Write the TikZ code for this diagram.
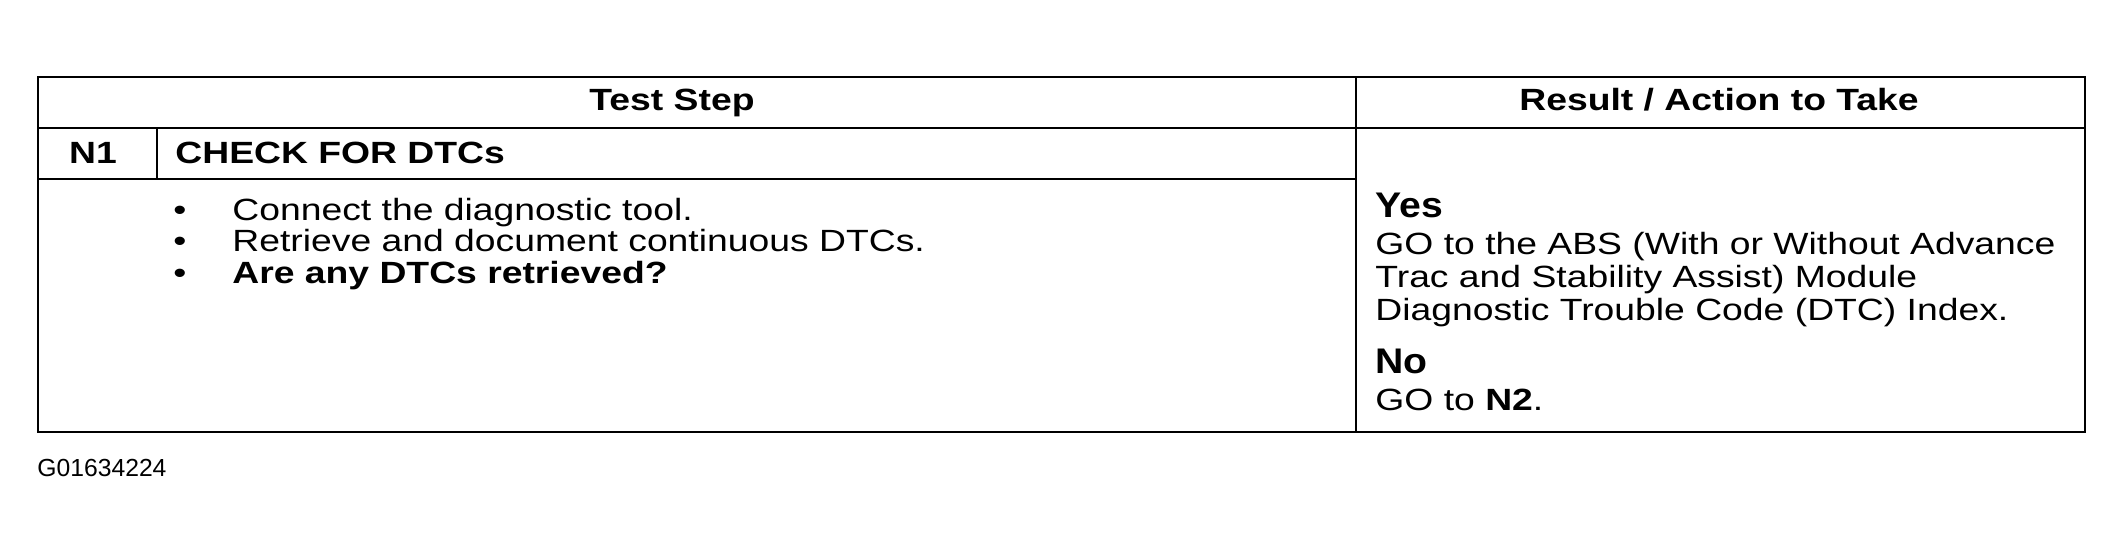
\documentclass[tikz,border=0pt]{standalone}
\usepackage{fontspec}
\setmainfont{Liberation Sans}[FakeStretch=1.215]
\newfontfamily\ynfont{Liberation Sans}[FakeStretch=1.1]
\newfontfamily\plainfont{Liberation Sans}
\begin{document}
\begin{tikzpicture}[x=0.5pt,y=-0.5pt,
  frame/.style={line width=1.1pt},
  rulel/.style={line width=0.65pt},
  txt/.style={anchor=base west,inner sep=0pt,font=\fontsize{15.35}{16.5}\selectfont},
  boldtxt/.style={anchor=base west,inner sep=0pt,font=\fontsize{15.35}{16.5}\selectfont\bfseries},
  head/.style={anchor=base,inner sep=0pt,font=\fontsize{15.35}{16.5}\selectfont\bfseries},
  yn/.style={anchor=base west,inner sep=0pt,font=\ynfont\fontsize{17.8}{19}\selectfont\bfseries},
  bul/.style={anchor=base west,inner sep=0pt,font=\fontsize{15.35}{16.5}\selectfont},
  fig/.style={anchor=base west,inner sep=0pt,font=\plainfont\fontsize{12.35}{13}\selectfont}]
\useasboundingbox (0,0) rectangle (2124,552);
% grid coordinates
\coordinate (tl) at (38,77);
\coordinate (br) at (2085,432);
\coordinate (hl) at (38,128);
\coordinate (hr) at (2085,128);
\coordinate (rl) at (38,179);
\coordinate (rr) at (1356,179);
\coordinate (ct) at (1356,77);
\coordinate (cb) at (1356,432);
\coordinate (nt) at (157,128);
\coordinate (nb) at (157,179);
% lines
\draw[rulel] (hl) -- (hr);
\draw[rulel] (rl) -- (rr);
\draw[rulel] (ct) -- (cb);
\draw[rulel] (nt) -- (nb);
\draw[frame] (tl) rectangle (br);
% header
\node[head] (hts) at (672,110) {Test Step};
\node[head] (hra) at (1719,110) {Result / Action to Take};
% step row
\node[head] (n1) at (93,163) {N1};
\node[boldtxt] (chk) at (175,163) {CHECK FOR DTCs};
% bullets
\node[bul] (b1) at (173,220) {•};
\node[bul] (b2) at (173,251.5) {•};
\node[bul] (b3) at (173,283) {•};
\node[txt] (t1) at (232,220) {Connect the diagnostic tool.};
\node[txt] (t2) at (232,251.5) {Retrieve and document continuous DTCs.};
\node[boldtxt] (t3) at (232,283) {Are any DTCs retrieved?};
% results
\node[yn] (yes) at (1375,217) {Yes};
\node[txt] (r1) at (1375,254) {GO to the ABS (With or Without Advance};
\node[txt] (r2) at (1375,287) {Trac and Stability Assist) Module};
\node[txt] (r3) at (1375,320) {Diagnostic Trouble Code (DTC) Index.};
\node[yn] (no) at (1375,373) {No};
\node[txt] (r4) at (1375,410) {GO to \textbf{N2}.};
% figure id
\node[fig] (gid) at (37,476) {G01634224};
\end{tikzpicture}
\end{document}
